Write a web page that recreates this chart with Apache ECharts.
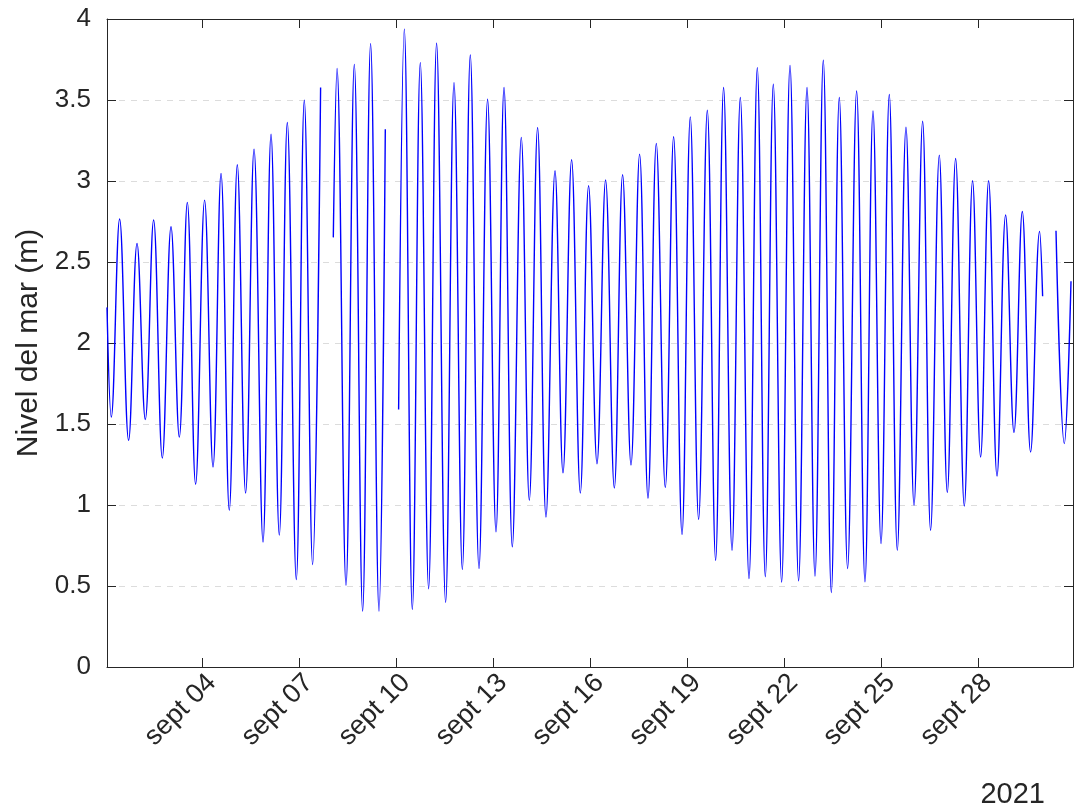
<!DOCTYPE html>
<html>
<head>
<meta charset="utf-8">
<script src="https://cdn.jsdelivr.net/npm/echarts@6/dist/echarts.min.js"></script>
<style>
  html, body {margin: 0; padding: 0; background: #fff;}
  #chart {width: 1075px; height: 812px;}
</style>
</head>
<body>
<div id="chart"></div>
<script>
// dia de septiembre 2021 (decimal) y nivel del mar (m); null = hueco en la serie
const dias = [
  1.051, 1.184, 1.441, 1.720, 1.980, 2.236, 2.493, 2.762, 3.032, 3.288,
  3.536, 3.793, 4.071, 4.331, 4.579, 4.835, 5.083, 5.340, 5.600, 5.878,
  6.126, 6.382, 6.630, 6.908, 7.156, 7.413, 7.660, 7.850, 8.053, 8.168,
  8.446, 8.703, 8.960, 9.207, 9.467, 9.662, 9.850, 10.074, 10.250, 10.498,
  10.745, 11.002, 11.249, 11.528, 11.788, 12.045, 12.292, 12.561, 12.827, 13.087,
  13.335, 13.592, 13.870, 14.118, 14.374, 14.634, 14.913, 15.160, 15.426, 15.696,
  15.952, 16.212, 16.478, 16.748, 17.004, 17.264, 17.530, 17.790, 18.047, 18.325,
  18.582, 18.842, 19.099, 19.356, 19.625, 19.882, 20.129, 20.389, 20.646, 20.915,
  21.172, 21.420, 21.667, 21.924, 22.184, 22.450, 22.710, 22.957, 23.214, 23.462,
  23.709, 23.966, 24.245, 24.504, 24.752, 25.000, 25.256, 25.504, 25.773, 26.021,
  26.287, 26.534, 26.803, 27.051, 27.308, 27.577, 27.833, 28.081, 28.329, 28.589,
  28.855, 29.114, 29.371, 29.628, 29.906, 30.000, 30.200, 30.414, 30.671, 30.878
];
const nivel = [
  2.22, 1.543, 2.765, 1.399, 2.615, 1.528, 2.759, 1.290, 2.718, 1.419,
  2.868, 1.128, 2.882, 1.235, 3.047, 0.968, 3.100, 1.074, 3.197, 0.772,
  3.289, 0.814, 3.361, 0.540, 3.499, 0.633, 3.577, null, 2.652, 3.694,
  0.505, 3.720, 0.345, 3.848, 0.345, 3.320, null, 1.590, 3.937, 0.356,
  3.731, 0.483, 3.850, 0.399, 3.607, 0.602, 3.778, 0.608, 3.505, 0.834,
  3.577, 0.742, 3.269, 1.029, 3.330, 0.926, 3.063, 1.198, 3.131, 1.074,
  2.971, 1.255, 3.006, 1.105, 3.039, 1.247, 3.166, 1.042, 3.232, 1.108,
  3.273, 0.818, 3.396, 0.912, 3.437, 0.659, 3.577, 0.721, 3.515, 0.546,
  3.700, 0.557, 3.597, 0.524, 3.714, 0.532, 3.577, 0.561, 3.745, 0.460,
  3.515, 0.608, 3.556, 0.526, 3.433, 0.762, 3.534, 0.721, 3.332, 0.998,
  3.369, 0.844, 3.160, 1.077, 3.139, 0.994, 3.002, 1.296, 3.002, 1.179,
  2.790, 1.448, 2.812, 1.327, 2.689, 2.289, null, 2.693, 1.379, 2.381
];
const diasMarcados = [4, 7, 10, 13, 16, 19, 22, 25, 28];
const anio = '2021';

const fuente = 'Liberation Sans, Arial, Helvetica, sans-serif';
const gris = '#262626';

let serie = dias.map((d, i) => [d, nivel[i] === null ? '-' : nivel[i]]);

let chart = echarts.init(document.getElementById('chart'));
chart.setOption({
  animation: false,
  backgroundColor: '#fff',
  grid: {left: 107, right: 2, top: 19, bottom: 145, show: false},
  xAxis: [{
    type: 'value',
    min: 1.051, max: 30.94,
    axisLine: {show: true, onZero: false, lineStyle: {color: gris, width: 1}},
    axisTick: {show: true, inside: true, length: 9, customValues: diasMarcados, lineStyle: {color: gris}},
    axisLabel: {
      customValues: diasMarcados, rotate: 45, margin: 2,
      verticalAlign: 'top',
      fontSize: 27, color: gris, fontFamily: fuente,
      formatter: v => 'sept ' + String(Math.round(v)).padStart(2, '0')
    },
    splitLine: {show: false}
  }, {
    type: 'value', position: 'top',
    min: 1.051, max: 30.94,
    axisLine: {show: true, onZero: false, lineStyle: {color: gris, width: 1}},
    axisTick: {show: true, inside: true, length: 9, customValues: diasMarcados, lineStyle: {color: gris}},
    axisLabel: {show: false},
    splitLine: {show: false}
  }],
  yAxis: [{
    type: 'value',
    min: 0, max: 4, interval: 0.5,
    name: 'Nivel del mar (m)',
    nameLocation: 'middle', nameGap: 62,
    nameTextStyle: {fontSize: 30, color: gris, fontFamily: fuente},
    axisLine: {show: true, onZero: false, lineStyle: {color: gris}},
    axisTick: {show: true, inside: true, length: 9, lineStyle: {color: gris}},
    axisLabel: {fontSize: 26, color: gris, fontFamily: fuente, margin: 16},
    splitLine: {show: true, showMinLine: false, showMaxLine: false, lineStyle: {color: '#dcdcdc', type: [6, 6], width: 1}}
  }, {
    type: 'value', position: 'right',
    min: 0, max: 4, interval: 0.5,
    axisLine: {show: true, onZero: false, lineStyle: {color: gris}},
    axisTick: {show: true, inside: true, length: 9, lineStyle: {color: gris}},
    axisLabel: {show: false},
    splitLine: {show: false}
  }],
  graphic: [{
    type: 'text', right: 30, top: 780,
    style: {text: anio, fontSize: 29, fill: gris, fontFamily: fuente}
  }],
  series: [{
    type: 'line',
    data: serie,
    smooth: 0.4,
    connectNulls: false,
    showSymbol: false,
    lineStyle: {color: '#0000ff', width: 1.4}
  }]
});
</script>
</body>
</html>
